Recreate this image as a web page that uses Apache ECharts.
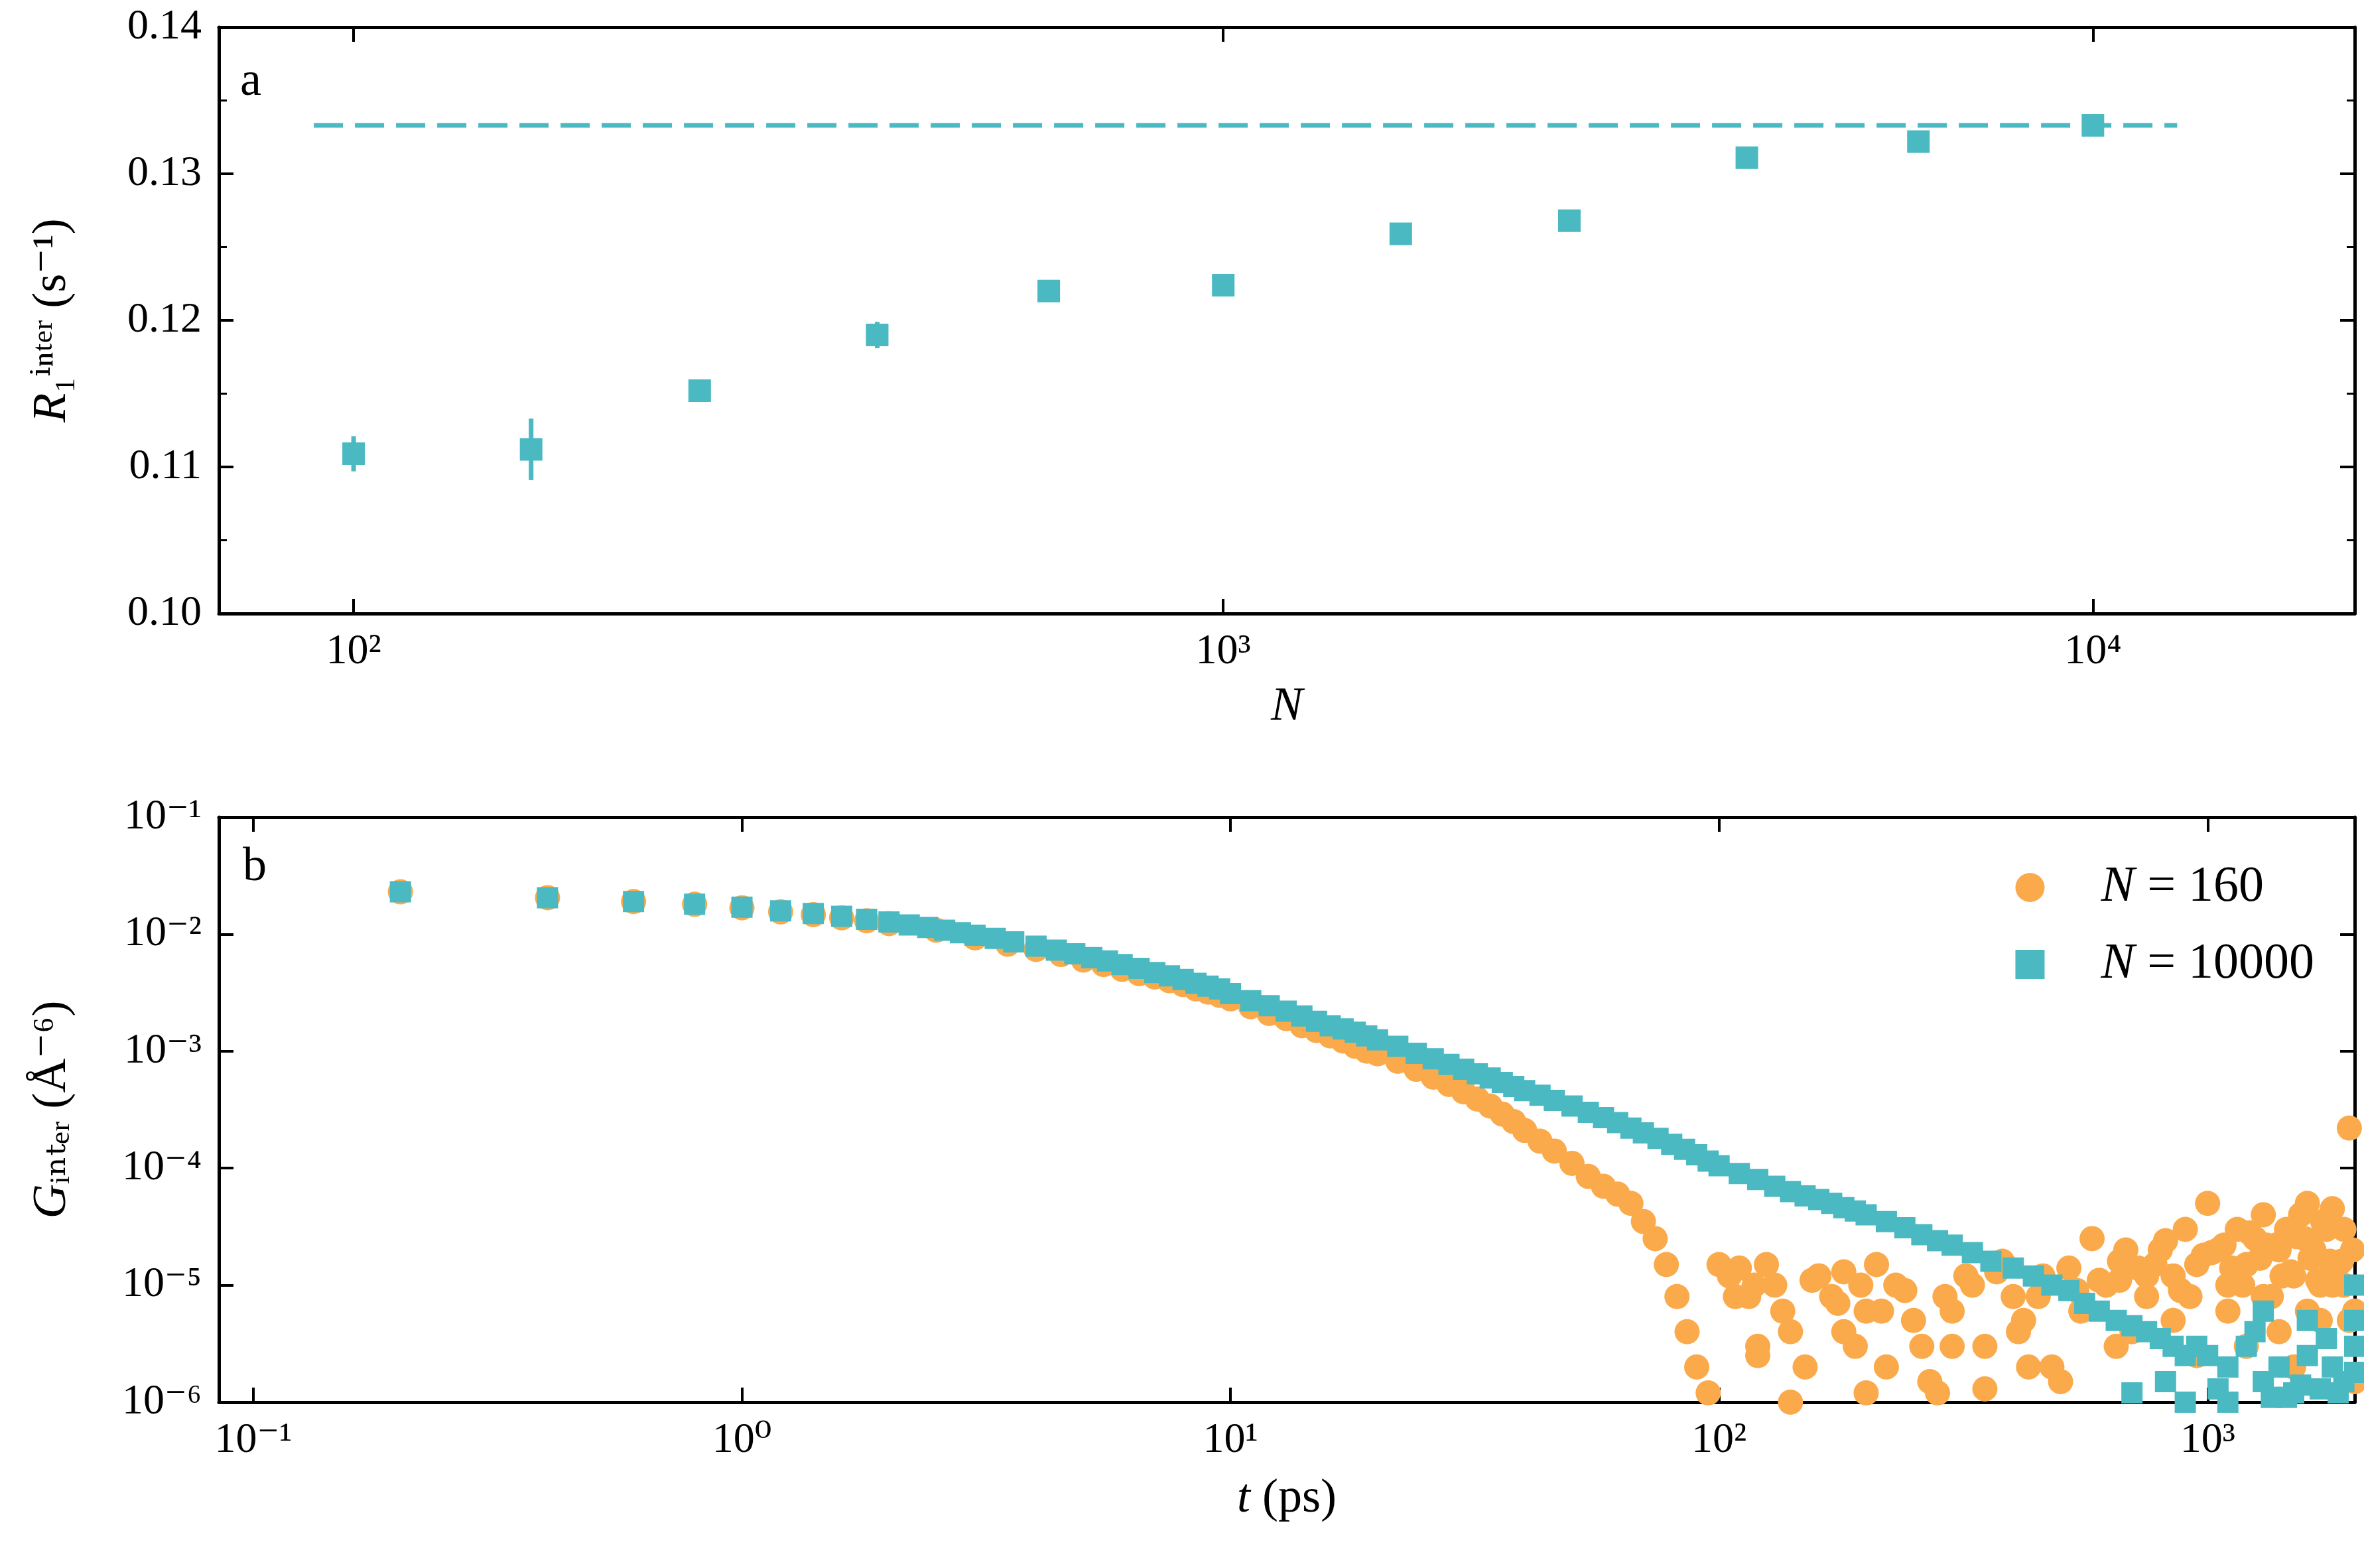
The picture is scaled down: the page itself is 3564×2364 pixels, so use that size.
<!DOCTYPE html>
<html><head><meta charset="utf-8">
<script src="https://cdn.jsdelivr.net/npm/echarts@6/dist/echarts.min.js"></script>
<style>html,body{margin:0;background:#fff}#c{width:3564px;height:2364px}</style>
</head><body><div id="c"></div>
<script>
// Panel a data
const sizesN = [100,160,250,400,630,1000,1600,2500,4000,6300,10000];
const R1 = [0.1109,0.1112,0.1152,0.1190,0.1220,0.1224,0.1259,0.1268,0.1311,0.1322,0.1333];
const R1err = [0.0012,0.0021,0.0004,0.0009,0.0004,0.0003,0.0003,0.0003,0.0003,0.0003,0.0003];
const R1limit = 0.1333;
const limitRange = [90, 12500];
// Panel b data
const tTeal = [0.2,0.4,0.6,0.8,1.0,1.2,1.4,1.6,1.8,2.0,2.2,2.4,2.6,2.8,3,3.3,3.6,4,4.4,4.8,5.2,5.6,6,6.5,7,7.5,8,8.5,9,9.5,10,11,12,13,14,15,16,17,18,19,20,22,24,26,28,30,32,34,36,38,40,43,46,50,54,58,62,66,70,75,80,85,90,95,100,110,120,130,140,150,160,170,180,190,200,220,240,260,280,300,330,360,400,440,480,520,560,600,650,700,750,800,850,900,950,1000,1100,1200,1300,1400,1500,1600,1700,1800,1900,2000,700,900,1100,1300,1600,2000,2000,2000,1250,1450,1750,820,1050,1350,1550,1850];
const gTeal = [0.023,0.0205,0.019,0.018,0.017,0.0158,0.015,0.0142,0.0134,0.0127,0.012,0.0114,0.0108,0.0103,0.0098,0.0092,0.0086,0.0079,0.0073,0.0068,0.0063,0.0059,0.0055,0.0051,0.0047,0.0044,0.0041,0.0038,0.0036,0.0034,0.0031,0.0027,0.00245,0.0022,0.002,0.0018,0.00165,0.00155,0.00145,0.00135,0.00125,0.0011,9.6e-4,8.6e-4,7.7e-4,7.0e-4,6.4e-4,5.9e-4,5.4e-4,5.0e-4,4.6e-4,4.2e-4,3.8e-4,3.4e-4,3.0e-4,2.7e-4,2.45e-4,2.2e-4,2.0e-4,1.8e-4,1.6e-4,1.45e-4,1.3e-4,1.15e-4,1.05e-4,9e-5,8e-5,7e-5,6.3e-5,5.8e-5,5.4e-5,5.0e-5,4.6e-5,4.3e-5,4.0e-5,3.5e-5,3.1e-5,2.7e-5,2.4e-5,2.2e-5,1.9e-5,1.6e-5,1.4e-5,1.2e-5,1.0e-5,9e-6,7e-6,6e-6,5e-6,4.5e-6,4e-6,3.5e-6,3e-6,2.5e-6,3e-6,2.5e-6,2e-6,3e-6,1.5e-6,2e-6,1.2e-6,2.5e-6,1.3e-6,2e-6,1.5e-6,1.8e-6,1.2e-6,1e-6,1e-6,6e-6,5e-6,1e-5,5e-6,3e-6,4e-6,1.1e-6,3.5e-6,1.5e-6,1.3e-6,1.1e-6,1.4e-6,1.2e-6];
const tOrange = [0.2,0.4,0.6,0.8,1.0,1.2,1.4,1.6,1.8,2.0,2.5,3,3.5,4,4.5,5,5.5,6,6.5,7,7.5,8,8.5,9,9.5,10,11,12,13,14,15,16,17,18,19,20,22,24,26,28,30,32,34,36,38,40,43,46,50,54,58,62,66,70,74,78,82,86,90,95,
 100,105,110,115,120,125,130,140,150,160,170,180,190,200,210,220,240,260,280,300,320,350,380,400,430,460,500,540,580,620,660,700,750,800,850,900,950,1000,1050,1100,1150,1200,1250,1300,1350,1400,1450,1500,1550,1600,1650,1700,1750,1800,1850,1900,1950,2000,2000,
 120,140,160,180,200,230,270,300,350,420,480,550,650,750,850,950,1100,1200,1300,1400,1500,1600,1700,1800,1900,1950,
 108,118,135,155,175,195,215,250,290,330,370,410,450,520,600,680,780,880,980,1080,1180,1280,1380,1480,1580,1680,1780,1880,1980,
 660,720,820,920,1020,1120,1220,1320,1420,1520,1620,1720,1820,1920];
const gOrange = [0.023,0.0205,0.019,0.018,0.0168,0.0155,0.0147,0.0138,0.013,0.0123,0.0108,0.0093,0.0082,0.0074,0.0067,0.006,0.0055,0.005,0.0046,0.0043,0.004,0.0037,0.0034,0.0032,0.003,0.0028,0.0024,0.0021,0.0019,0.00165,0.0015,0.00135,0.00122,0.0011,0.001,9.5e-4,8.2e-4,7e-4,6e-4,5.2e-4,4.5e-4,3.9e-4,3.4e-4,2.9e-4,2.5e-4,2.1e-4,1.7e-4,1.4e-4,1.1e-4,8.5e-5,7e-5,6e-5,5e-5,3.5e-5,2.5e-5,1.5e-5,8e-6,4e-6,2e-6,1.2e-6,
 1.5e-5,1.2e-5,1.4e-5,8e-6,3e-6,1.5e-5,1e-5,4e-6,2e-6,1.2e-5,8e-6,1.3e-5,3e-6,6e-6,1.5e-5,2e-6,9e-6,3e-6,1.2e-6,6e-6,1.2e-5,3e-6,1.6e-5,8e-6,2e-6,1.2e-5,1.5e-6,9e-6,2.5e-5,1e-5,1.6e-5,4e-6,1.2e-5,2e-5,1.2e-5,3e-5,1.5e-5,5e-5,2e-5,1e-5,3e-5,1.5e-5,2.5e-5,4e-5,8e-6,2e-5,3e-5,1.2e-5,4e-5,5e-5,2e-5,1e-5,3e-5,4.5e-5,1.5e-5,3e-5,2.2e-4,
 1.5e-6,6e-6,2.5e-6,1e-6,1.2e-5,4e-6,1.2e-6,1e-5,1.5e-6,3e-6,1.3e-6,5e-6,2e-6,6e-6,3e-6,8e-6,5e-6,2.5e-6,6e-6,3e-6,8e-6,4e-6,2e-6,6e-6,5e-6,1e-5,
 1e-5,5e-6,8e-6,1e-5,6e-6,1.1e-5,7e-6,1e-5,6e-6,5e-6,8e-6,1e-5,1.3e-5,4e-6,8e-6,1.4e-5,1.1e-5,2e-5,1.5e-5,9e-6,1.8e-5,2.2e-5,1e-5,1.7e-5,2.2e-5,1.3e-5,2.5e-5,1.1e-5,1.6e-5,
 1.6e-5,2e-5,1.1e-5,1.4e-5,2.4e-5,8e-6,1.9e-5,1.4e-5,2.8e-5,2.2e-5,1.2e-5,2.6e-5,1.7e-5,3.5e-5];
const supMap = {'-':'⁻','0':'⁰','1':'¹','2':'²','3':'³','4':'⁴','5':'⁵','6':'⁶','7':'⁷','8':'⁸','9':'⁹'};
function pow10Label(v){const e=Math.round(Math.log10(v));return '10'+String(e).split('').map(c=>supMap[c]).join('');}
const TEAL='#4AB9C2', ORANGE='#FBAA4B';
const FONT="'Liberation Serif', 'DejaVu Serif', serif";
const fs=64;
const axLine={show:true,lineStyle:{color:'#000',width:5}};
const tickIn={show:true,inside:true,length:22,lineStyle:{color:'#000',width:4}};
const minorIn={show:true,splitNumber:2,length:12,lineStyle:{color:'#000',width:3}};
const lab={color:'#000',fontFamily:FONT,fontSize:fs,margin:26};
const gridA={left:330,top:41,width:3220,height:884};
const gridB={left:330,top:1232,width:3220,height:882};
const chart=echarts.init(document.getElementById('c'),null,{renderer:'canvas'});
const xa=(gi,pos,min,max,show,name,gap)=>({type:'log',gridIndex:gi,position:pos,min,max,logBase:10,
  axisLine:axLine,axisTick:tickIn,splitLine:{show:false},
  axisLabel:show?Object.assign({formatter:pow10Label,showMinLabel:false,showMaxLabel:false},lab):{show:false},
  name:show?name:'',nameLocation:'middle',nameGap:gap,nameTextStyle:{fontFamily:FONT,fontSize:72,color:'#000',rich:{i:{fontStyle:'italic',fontFamily:FONT,fontSize:72}}}});
chart.setOption({
 animation:false,
 grid:[gridA,gridB],
 xAxis:[xa(0,'bottom',70,20000,true,'{i|N}',105),xa(0,'top',70,20000,false),
        xa(1,'bottom',0.085,2000,true,'{i|t} (ps)',110),xa(1,'top',0.085,2000,false)],
 yAxis:[
  {type:'value',gridIndex:0,min:0.10,max:0.14,interval:0.01,axisLine:axLine,axisTick:tickIn,minorTick:minorIn,splitLine:{show:false},
   axisLabel:Object.assign({formatter:v=>v.toFixed(2)},lab),name:'{i|R}₁ⁱⁿᵗᵉʳ (s⁻¹)',nameLocation:'middle',nameGap:215,
   nameTextStyle:{fontFamily:FONT,fontSize:72,color:'#000',rich:{i:{fontStyle:'italic',fontFamily:FONT,fontSize:72}}}},
  {type:'value',gridIndex:0,position:'right',min:0.10,max:0.14,interval:0.01,axisLine:axLine,axisTick:tickIn,minorTick:minorIn,splitLine:{show:false},axisLabel:{show:false}},
  {type:'log',gridIndex:1,min:1e-6,max:0.1,logBase:10,axisLine:axLine,axisTick:tickIn,splitLine:{show:false},
   axisLabel:Object.assign({formatter:pow10Label},lab),name:'{i|G}ᵢₙₜₑᵣ (Å⁻⁶)',nameLocation:'middle',nameGap:215,
   nameTextStyle:{fontFamily:FONT,fontSize:72,color:'#000',rich:{i:{fontStyle:'italic',fontFamily:FONT,fontSize:72}}}},
  {type:'log',gridIndex:1,position:'right',min:1e-6,max:0.1,logBase:10,axisLine:axLine,axisTick:tickIn,splitLine:{show:false},axisLabel:{show:false}}
 ],
 legend:{show:true,right:70,top:1295,orient:'vertical',itemGap:40,itemWidth:44,itemHeight:44,
  textStyle:{fontFamily:FONT,fontSize:76,color:'#000',padding:[0,0,0,40],rich:{i:{fontStyle:'italic',fontFamily:FONT,fontSize:76,padding:[0,0,0,40]}}},
  formatter:n=>n==='o'?'{i|N} = 160':'{i|N} = 10000',
  data:[{name:'o',icon:'circle'},{name:'t',icon:'rect'}]},
 graphic:[
  {type:'text',left:362,top:88,style:{text:'a',fontFamily:FONT,fontSize:72,fill:'#000'}},
  {type:'text',left:366,top:1272,style:{text:'b',fontFamily:FONT,fontSize:72,fill:'#000'}}
 ],
 series:[
  {type:'line',xAxisIndex:0,yAxisIndex:0,data:limitRange.map(x=>[x,R1limit]),symbol:'none',
   lineStyle:{color:TEAL,width:7,type:[44,18]},z:1},
  {type:'custom',xAxisIndex:0,yAxisIndex:0,data:sizesN.map((n,i)=>[n,R1[i],R1err[i]]),
   renderItem:(p,api)=>{const a=api.coord([api.value(0),api.value(1)-api.value(2)]);const b=api.coord([api.value(0),api.value(1)+api.value(2)]);
    return {type:'line',shape:{x1:a[0],y1:a[1],x2:b[0],y2:b[1]},style:{stroke:TEAL,lineWidth:7}};},z:2},
  {type:'scatter',xAxisIndex:0,yAxisIndex:0,data:sizesN.map((n,i)=>[n,R1[i]]),symbol:'rect',symbolSize:34,itemStyle:{color:TEAL,opacity:1},z:3},
  {name:'o',type:'scatter',xAxisIndex:2,yAxisIndex:2,data:tOrange.map((t,i)=>[t,gOrange[i]]),symbol:'circle',symbolSize:38,itemStyle:{color:ORANGE,opacity:1},z:2,clip:true},
  {name:'t',type:'scatter',xAxisIndex:2,yAxisIndex:2,data:tTeal.map((t,i)=>[t,gTeal[i]]),symbol:'rect',symbolSize:32,itemStyle:{color:TEAL,opacity:1},z:3,clip:true}
 ]
});
</script></body></html>
